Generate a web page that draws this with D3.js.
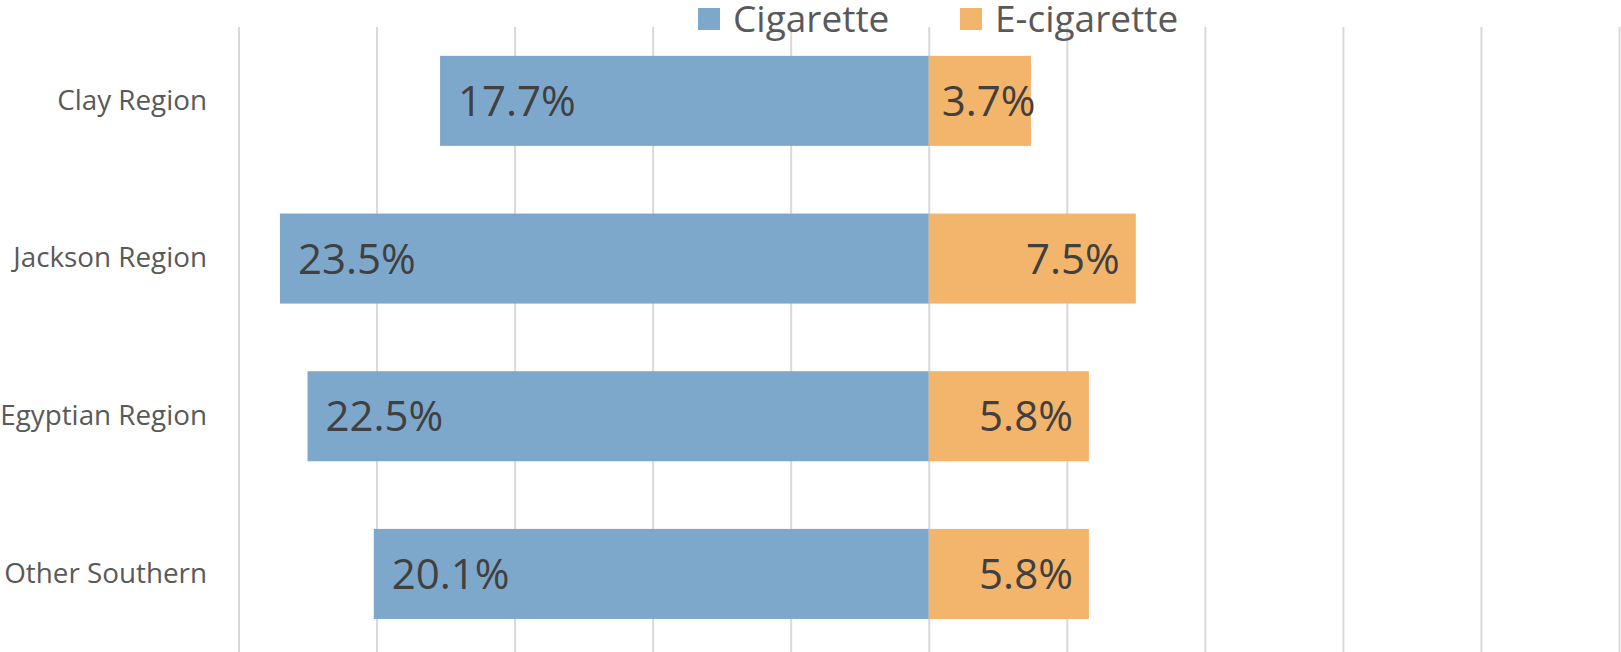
<!DOCTYPE html>
<html>
<head>
<meta charset="utf-8">
<script src="https://cdn.jsdelivr.net/npm/d3@7"></script>
<style>
  body { margin: 0; background: #fff; }
  svg { display: block; }
</style>
</head>
<body>
<svg width="1621" height="652"></svg>
<script>
const regions = ["Clay Region", "Jackson Region", "Egyptian Region", "Other Southern"];
const cigarette = [17.7, 23.5, 22.5, 20.1];
const eCigarette = [3.7, 7.5, 5.8, 5.8];
const seriesNames = ["Cigarette", "E-cigarette"];
const xTicks = [-25, -20, -15, -10, -5, 0, 5, 10, 15, 20, 25];

const colors = { cig: "#7ea8cb", ecig: "#f3b46b" };

const svg = d3.select("svg"),
  width = +svg.attr("width"),
  height = +svg.attr("height");

const x = d3.scaleLinear().domain([-25, 25]).range([238.5, 1619]);
const y = d3
  .scaleBand()
  .domain(regions)
  .range([22, 652.8])
  .paddingInner(0.429)
  .paddingOuter(0.2146);

// vertical gridlines
svg
  .append("g")
  .attr("transform", "translate(0,27)")
  .call(d3.axisBottom(x).tickValues(xTicks).tickSize(height).tickFormat(""))
  .call(g => g.select(".domain").remove())
  .call(g => g.selectAll(".tick line").attr("stroke", "#d9d9d9").attr("stroke-width", 2));

// category labels
svg
  .append("g")
  .attr("transform", "translate(207,0)")
  .call(d3.axisLeft(y).tickSize(0).tickPadding(0))
  .call(g => g.select(".domain").remove())
  .call(g =>
    g.selectAll(".tick text")
      .attr("font-family", "'Open Sans', sans-serif")
      .attr("font-size", 27.8)
      .attr("fill", "#595959")
      .attr("dy", "0.32em")
  );

const rows = regions.map((r, i) => ({ region: r, cig: cigarette[i], ecig: eCigarette[i] }));

// cigarette bars (left of zero)
svg
  .append("g")
  .selectAll("rect")
  .data(rows)
  .join("rect")
  .attr("x", d => x(-d.cig))
  .attr("y", d => y(d.region))
  .attr("width", d => x(0) - x(-d.cig))
  .attr("height", y.bandwidth())
  .attr("fill", colors.cig);

// e-cigarette bars (right of zero)
svg
  .append("g")
  .selectAll("rect")
  .data(rows)
  .join("rect")
  .attr("x", x(0))
  .attr("y", d => y(d.region))
  .attr("width", d => x(d.ecig) - x(0))
  .attr("height", y.bandwidth())
  .attr("fill", colors.ecig);

const labelFont = "'Open Sans', sans-serif";

// cigarette value labels
svg
  .append("g")
  .selectAll("text")
  .data(rows)
  .join("text")
  .attr("x", d => x(-d.cig) + 18)
  .attr("y", d => y(d.region) + y.bandwidth() / 2)
  .attr("dy", "0.36em")
  .attr("font-family", labelFont)
  .attr("font-size", 42)
  .attr("fill", "#404040")
  .text(d => d.cig.toFixed(1) + "%");

// e-cigarette value labels
svg
  .append("g")
  .selectAll("text")
  .data(rows)
  .join("text")
  .attr("y", d => y(d.region) + y.bandwidth() / 2)
  .attr("dy", "0.36em")
  .attr("font-family", labelFont)
  .attr("font-size", 42)
  .attr("fill", "#404040")
  .text(d => d.ecig.toFixed(1) + "%")
  .each(function (d) {
    const w = this.getComputedTextLength();
    const end = x(d.ecig) - 16;
    d3.select(this).attr("x", Math.max(end - w, x(0) + 13));
  });

// legend
const legend = svg.append("g");
const legendItems = [
  { name: seriesNames[0], color: colors.cig, x: 698 },
  { name: seriesNames[1], color: colors.ecig, x: 960 }
];
legendItems.forEach(item => {
  legend
    .append("rect")
    .attr("x", item.x)
    .attr("y", 8)
    .attr("width", 22)
    .attr("height", 22)
    .attr("fill", item.color);
  legend
    .append("text")
    .attr("x", item.x + 35)
    .attr("y", 32)
    .attr("font-family", labelFont)
    .attr("font-size", 37)
    .attr("fill", "#595959")
    .text(item.name);
});
</script>
</body>
</html>
